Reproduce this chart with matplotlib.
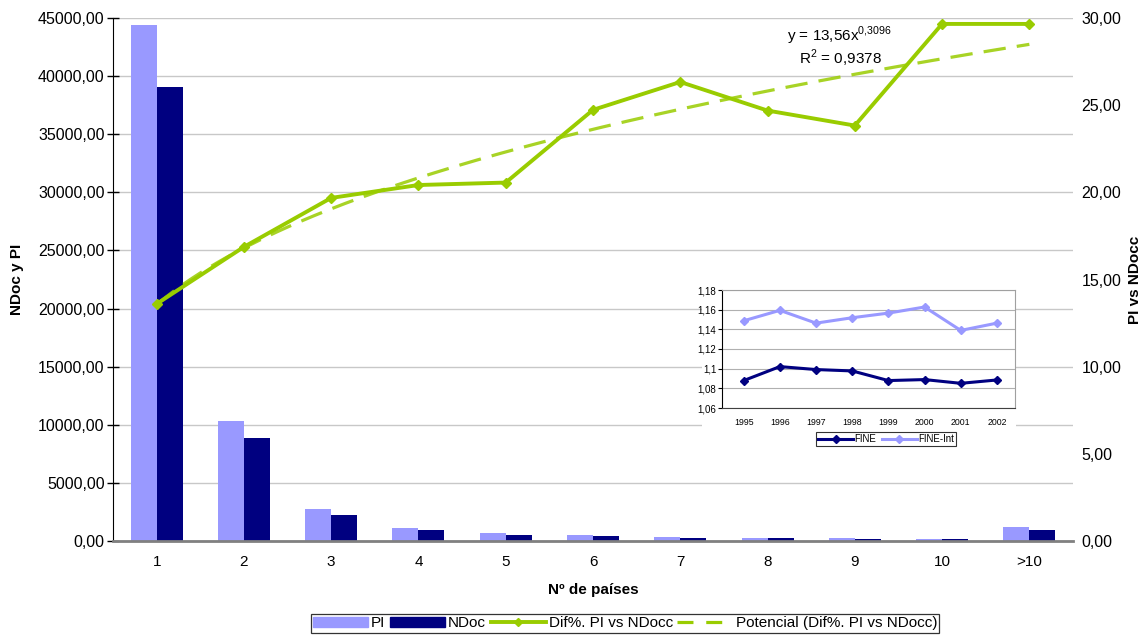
import matplotlib
matplotlib.use("Agg")
import matplotlib.pyplot as plt
from matplotlib.patches import Rectangle
from matplotlib.lines import Line2D
from matplotlib.ticker import FuncFormatter
import numpy as np

plt.rcParams.update({"font.family": ["Liberation Sans", "DejaVu Sans"],
                     "mathtext.fontset": "custom",
                     "mathtext.rm": "Liberation Sans",
                     "font.size": 11})

W, H = 1146, 639

# main chart data
categories = ["1", "2", "3", "4", "5", "6", "7", "8", "9", "10", ">10"]
pi_vals = [44400, 10330, 2730, 1090, 660, 520, 345, 290, 230, 200, 1180]
ndoc_vals = [39070, 8870, 2270, 920, 550, 430, 290, 230, 175, 150, 920]
dif_pct = [13.60, 16.87, 19.68, 20.42, 20.56, 24.73, 26.33, 24.69, 23.83, 29.66, 29.66]
TREND_A, TREND_B, TREND_R2 = 13.56, 0.3096, 0.9378

# inset data
years = ["1995", "1996", "1997", "1998", "1999", "2000", "2001", "2002"]
fine = [1.0879, 1.1021, 1.0991, 1.0977, 1.0879, 1.0889, 1.0851, 1.0885]
fine_int = [1.1487, 1.1593, 1.1463, 1.1518, 1.1565, 1.1627, 1.1389, 1.1463]

PI_C = "#9999FF"
NDOC_C = "#000080"
GREEN = "#99CC00"
GRID_C = "#C8C8C8"


def comma(fmt):
    return FuncFormatter(lambda v, p: format(v, fmt).replace(".", ","))


fig = plt.figure(figsize=(W / 100, H / 100), dpi=100)
ax = fig.add_axes([113 / W, 1 - 541 / H, 960 / W, 523 / H])
x = np.arange(len(categories))
bw = 0.298
ax.bar(x - bw / 2, pi_vals, bw, color=PI_C, label="PI", zorder=2)
ax.bar(x + bw / 2, ndoc_vals, bw, color=NDOC_C, label="NDoc", zorder=2)
ax.set_xlim(-0.5, len(categories) - 0.5)
ax.set_ylim(0, 45000)
ax.set_yticks(np.arange(0, 45001, 5000))
ax.yaxis.set_major_formatter(comma(".2f"))
ax.set_xticks(x)
ax.set_xticklabels(categories)
ax.tick_params(axis="x", length=0, pad=10)
ax.tick_params(axis="y", direction="inout", length=8, width=1, pad=2, labelsize=11.5)
ax.grid(axis="y", color=GRID_C, lw=1, zorder=0)
ax.set_axisbelow(True)
for s in ["top", "right"]:
    ax.spines[s].set_visible(False)
ax.spines["left"].set_color("#000000")
ax.spines["bottom"].set_color("#808080")
ax.spines["bottom"].set_linewidth(2)
ax.set_ylabel("NDoc y PI", fontweight="bold", labelpad=10)
ax.set_xlabel("Nº de países", fontweight="bold", labelpad=10)

ax2 = ax.twinx()
ax2.set_ylim(0, 30)
ax2.set_yticks(np.arange(0, 30.1, 5))
ax2.yaxis.set_major_formatter(comma(".2f"))
ax2.tick_params(axis="y", length=0, pad=6, labelsize=11.5)
for s in ax2.spines.values():
    s.set_visible(False)
ax2.set_ylabel("PI vs NDocc", fontweight="bold", labelpad=5)

xt = np.linspace(1, len(categories), 200)
trend = TREND_A * xt ** TREND_B
ax2.plot(xt - 1, trend, color=GREEN, lw=2.3, dashes=(7, 3.5), alpha=0.85, zorder=3)
ax2.plot(x, dif_pct, color=GREEN, lw=2.8, marker="D", ms=5.5, zorder=4)

eq_a = f"{TREND_A:.2f}".replace(".", ",")
eq_b = f"{TREND_B:.4f}".replace(".", "{,}")
eq_r = f"{TREND_R2:.4f}".replace(".", ",")
fig.text(840 / W, 1 - 36 / H, "y = " + eq_a + "x$^{\\mathregular{" + eq_b + "}}$",
         ha="center", va="center", fontsize=11)
fig.text(840 / W, 1 - 58 / H, "R$^{\\mathregular{2}}$ = " + eq_r,
         ha="center", va="center", fontsize=11)

# main legend
handles = [Rectangle((0, 0), 1, 1, color=PI_C),
           Rectangle((0, 0), 1, 1, color=NDOC_C),
           Line2D([], [], color=GREEN, lw=2.8, marker="D", ms=4),
           Line2D([], [], color=GREEN, lw=2.3, dashes=(5, 4))]
labels = ["PI", "NDoc", "Dif%. PI vs NDocc", "Potencial (Dif%. PI vs NDocc)"]
leg = fig.legend(handles, labels, loc="upper center", ncol=4,
                 bbox_to_anchor=(625 / W, 1 - 614 / H), frameon=True, fancybox=False,
                 edgecolor="black", fontsize=11, handlelength=3.6, handletextpad=0.2,
                 columnspacing=0.3, borderpad=0.15, borderaxespad=0)
leg.get_frame().set_linewidth(0.9)

# white background of the inset picture
fig.patches.append(Rectangle((702 / W, 1 - 456 / H), 314 / W, 172 / H,
                             transform=fig.transFigure, facecolor="white",
                             edgecolor="none", zorder=1))

ins = fig.add_axes([722 / W, 1 - 408 / H, 293 / W, 118 / H], zorder=3)
xi = np.arange(len(years))
ins.plot(xi, fine, color=NDOC_C, lw=2.2, marker="D", ms=4, label="FINE")
ins.plot(xi, fine_int, color=PI_C, lw=2.2, marker="D", ms=4, label="FINE-Int")
ins.set_xlim(-0.6, len(years) - 0.5)
ins.set_ylim(1.06, 1.18)
ins.set_yticks(np.arange(1.06, 1.181, 0.02))
ins.yaxis.set_major_formatter(FuncFormatter(
    lambda v, p: f"{v:.2f}".rstrip("0").replace(".", ",")))
ins.set_xticks(xi)
ins.set_xticklabels(years)
ins.tick_params(axis="x", length=0, labelsize=6.3, pad=7)
ins.tick_params(axis="y", length=3, width=0.8, labelsize=7, pad=1)
ins.grid(axis="y", color="#B0B0B0", lw=0.8)
ins.set_axisbelow(True)
for s in ["top", "right"]:
    ins.spines[s].set_color("#A0A0A0")
ins.spines["left"].set_color("#000000")
ins.spines["bottom"].set_color("#404040")
ileg = ins.legend(loc="upper center", bbox_to_anchor=(0.56, -0.2), ncol=2,
                  frameon=True, fancybox=False, edgecolor="black", fontsize=7,
                  handlelength=3.6, handletextpad=0.1, columnspacing=0.6,
                  borderpad=0.25, borderaxespad=0)
ileg.get_frame().set_linewidth(0.8)

fig.savefig("out.png", dpi=100)
